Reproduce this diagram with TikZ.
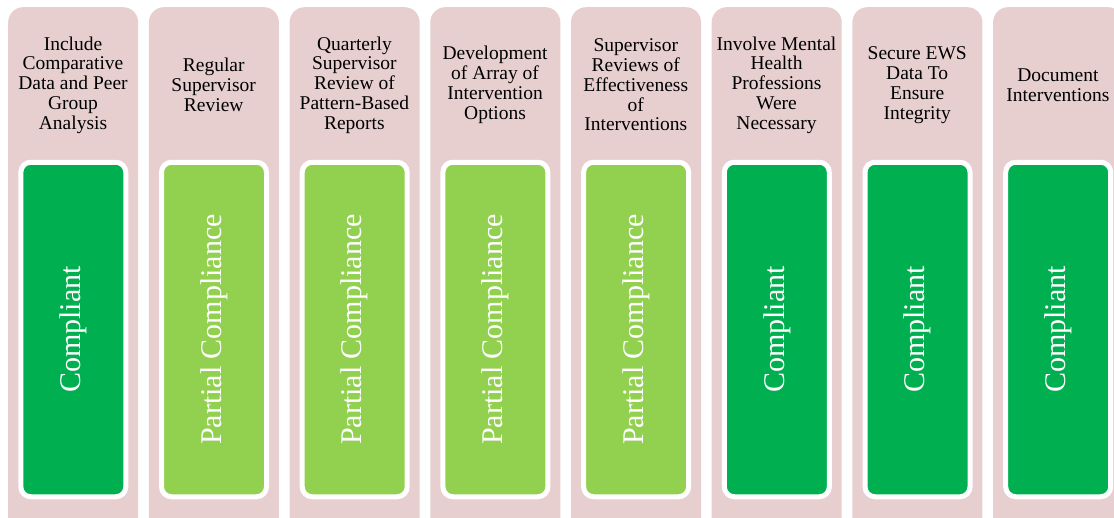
\documentclass[tikz,border=0pt]{standalone}
\usepackage{fontspec}
\setmainfont{Liberation Serif}
\definecolor{pinkbg}{HTML}{E7CFD0}
\definecolor{dgreen}{HTML}{00B050}
\definecolor{lgreen}{HTML}{92D050}
\begin{document}
\begin{tikzpicture}[x=1pt,y=-1pt,
  col/.style={fill=pinkbg, draw=none, rounded corners=15pt, minimum width=130pt, minimum height=560pt, anchor=north west, inner sep=0pt},
  statbox/.style={fill=#1, draw=white, line width=5pt, rounded corners=10pt, minimum width=105pt, minimum height=334.5pt, inner sep=0pt},
  lab/.style={align=center, font=\fontsize{19.5}{19.8}\selectfont, text=black, inner sep=0pt},
  vlab/.style={rotate=90, font=\fontsize{30}{32}\selectfont, text=white, inner sep=0pt}]
\clip (0,0) rectangle (1114,517);
\useasboundingbox (0,0) rectangle (1114,517);
\foreach \i/\t/\s/\c in {
  1/{Include\\Comparative\\Data and Peer\\Group\\Analysis}/Compliant/dgreen,
  2/{Regular\\Supervisor\\Review}/Partial Compliance/lgreen,
  3/{Quarterly\\Supervisor\\Review of\\Pattern-Based\\Reports}/Partial Compliance/lgreen,
  4/{Development\\of Array of\\Intervention\\Options}/Partial Compliance/lgreen,
  5/{Supervisor\\Reviews of\\Effectiveness\\of\\Interventions}/Partial Compliance/lgreen,
  6/{Involve Mental\\Health\\Professions\\Were\\Necessary}/Compliant/dgreen,
  7/{Secure EWS\\Data To\\Ensure\\Integrity}/Compliant/dgreen,
  8/{Document\\Interventions}/Compliant/dgreen} {
  \pgfmathsetmacro\xo{8+(\i-1)*140.7}
  \node[col] (col\i) at (\xo,7) {};
  \node[lab] (lab\i) at (\xo+65,85) {\t};
  \node[statbox=\c] (box\i) at (\xo+65.3,329.5) {};
  \node[vlab] (st\i) at (box\i.center) {\s};
}
\end{tikzpicture}
\end{document}
